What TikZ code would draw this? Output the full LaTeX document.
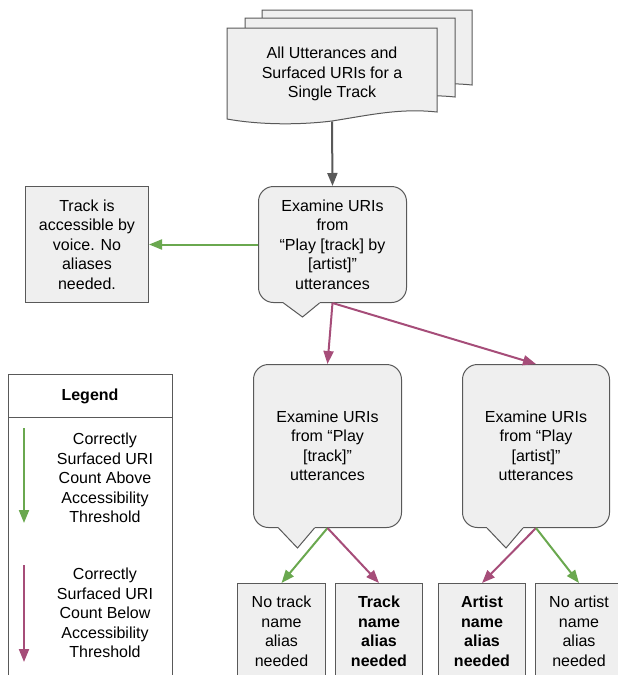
\documentclass[tikz,border=0pt]{standalone}
\usepackage{fontspec}
\setmainfont{Liberation Sans}
\usetikzlibrary{arrows.meta, positioning, calc}
\definecolor{cgreen}{HTML}{6AA84F}
\definecolor{cpink}{HTML}{A64D79}
\definecolor{cgrey}{HTML}{595959}
\definecolor{cfill}{HTML}{EFEFEF}
\tikzset{
  every picture/.style={line width=1pt},
  box/.style={draw=cgrey, fill=cfill, align=center, inner sep=0pt, anchor=north west,
              font=\fontsize{16}{19.5}\selectfont},
  callout/.style={box, rounded corners=15pt},
  page/.style={draw=cgrey, fill=cfill},
  good/.style={-{Triangle[length=13pt, width=10pt]}, draw=cgreen, line width=2pt},
  bad/.style={-{Triangle[length=13pt, width=10pt]}, draw=cpink, line width=2pt},
  flow/.style={-{Triangle[length=13pt, width=10pt]}, draw=cgrey, line width=2pt},
  note/.style={align=center, inner sep=0pt, font=\fontsize{16}{19.5}\selectfont},
}

\begin{document}
\begin{tikzpicture}[x=1pt, y=-1pt]
  \useasboundingbox (0,0) rectangle (618,675);
  \clip (0,0) rectangle (618,675);
  % stack of pages
  \foreach \dx/\dy/\t in {35/-27/37, 18/-15/33, 0/0/28} {
    \draw[page, shift={(\dx,\dy)}] (227,\t) -- (437,\t) -- (437,112)
      .. controls (400,108) and (370,115) .. (332,121)
      .. controls (300,125) and (260,125) .. (227,119) -- cycle;
  }
  \node[note, minimum height=94pt] (doc) at (332,74) {All Utterances and\\Surfaced URIs for a\\Single Track};
  % callouts
  \node[callout, minimum width=148pt, minimum height=116pt] (exam) at (258,186)
    {Examine URIs\\from\\“Play [track] by\\{[artist]”}\\utterances};
  \node[box, minimum width=123pt, minimum height=116pt] (access) at (25,186)
    {Track is\\accessible by\\voice. No\\aliases\\needed.};
  \node[callout, minimum width=148pt, minimum height=163pt] (extrack) at (253,364)
    {Examine URIs\\from “Play\\{[track]”}\\utterances};
  \node[callout, minimum width=147pt, minimum height=163pt] (exartist) at (462,364)
    {Examine URIs\\from “Play\\{[artist]”}\\utterances};
  \foreach \c/\d in {exam/14, extrack/20, exartist/20} {
    \fill[cfill] ($(\c.south)+(-49,-1)$) -- ($(\c.south)+(-49,0.5)$) -- ($(\c.south)+(-30,\d)$)
      -- ($(\c.south)+(-13,0.5)$) -- ($(\c.south)+(-13,-1)$) -- cycle;
    \draw[cgrey] ($(\c.south)+(-49,0)$) -- ($(\c.south)+(-30,\d)$) -- ($(\c.south)+(-13,0)$);
  }
  % outcomes
  \node[box, minimum width=88pt, minimum height=96pt] (notrack) at (237,583) {No track\\name\\alias\\needed};
  \node[box, minimum width=87pt, minimum height=96pt, font=\bfseries\fontsize{16}{19.5}\selectfont] (trackalias) at (335,583) {Track\\name\\alias\\needed};
  \node[box, minimum width=87pt, minimum height=96pt, font=\bfseries\fontsize{16}{19.5}\selectfont] (artistalias) at (438,583) {Artist\\name\\alias\\needed};
  \node[box, minimum width=87pt, minimum height=96pt] (noartist) at (535,583) {No artist\\name\\alias\\needed};
  % connectors
  \draw[flow] (doc.south) -- (exam.north);
  \draw[good] (exam.west) -- (access.east);
  \draw[bad] (exam.south) -- (extrack.north);
  \draw[bad] (exam.south) -- (exartist.north);
  \draw[good] (extrack.south) -- (notrack.north);
  \draw[bad] (extrack.south) -- (trackalias.north);
  \draw[bad] (exartist.south) -- (artistalias.north);
  \draw[good] (exartist.south) -- (noartist.north);
  % legend
  \node[draw=cgrey, fill=white, anchor=north west, minimum width=164pt, minimum height=320pt] (legend) at (8,374) {};
  \draw[cgrey] ($(legend.north west)+(0,43)$) -- ($(legend.north east)+(0,43)$);
  \node[note, font=\bfseries\fontsize{16}{19.5}\selectfont] (legtitle) at (90,396) {Legend};
  \node[note] (legabove) at (105,478) {Correctly\\Surfaced URI\\Count Above\\Accessibility\\Threshold};
  \node[note] (legbelow) at (105,613) {Correctly\\Surfaced URI\\Count Below\\Accessibility\\Threshold};
  \coordinate (ga) at (24,428);
  \coordinate (gb) at (24,523);
  \coordinate (pa) at (24,565);
  \coordinate (pb) at (24,662);
  \draw[good] (ga) -- (gb);
  \draw[bad] (pa) -- (pb);
\end{tikzpicture}
\end{document}
